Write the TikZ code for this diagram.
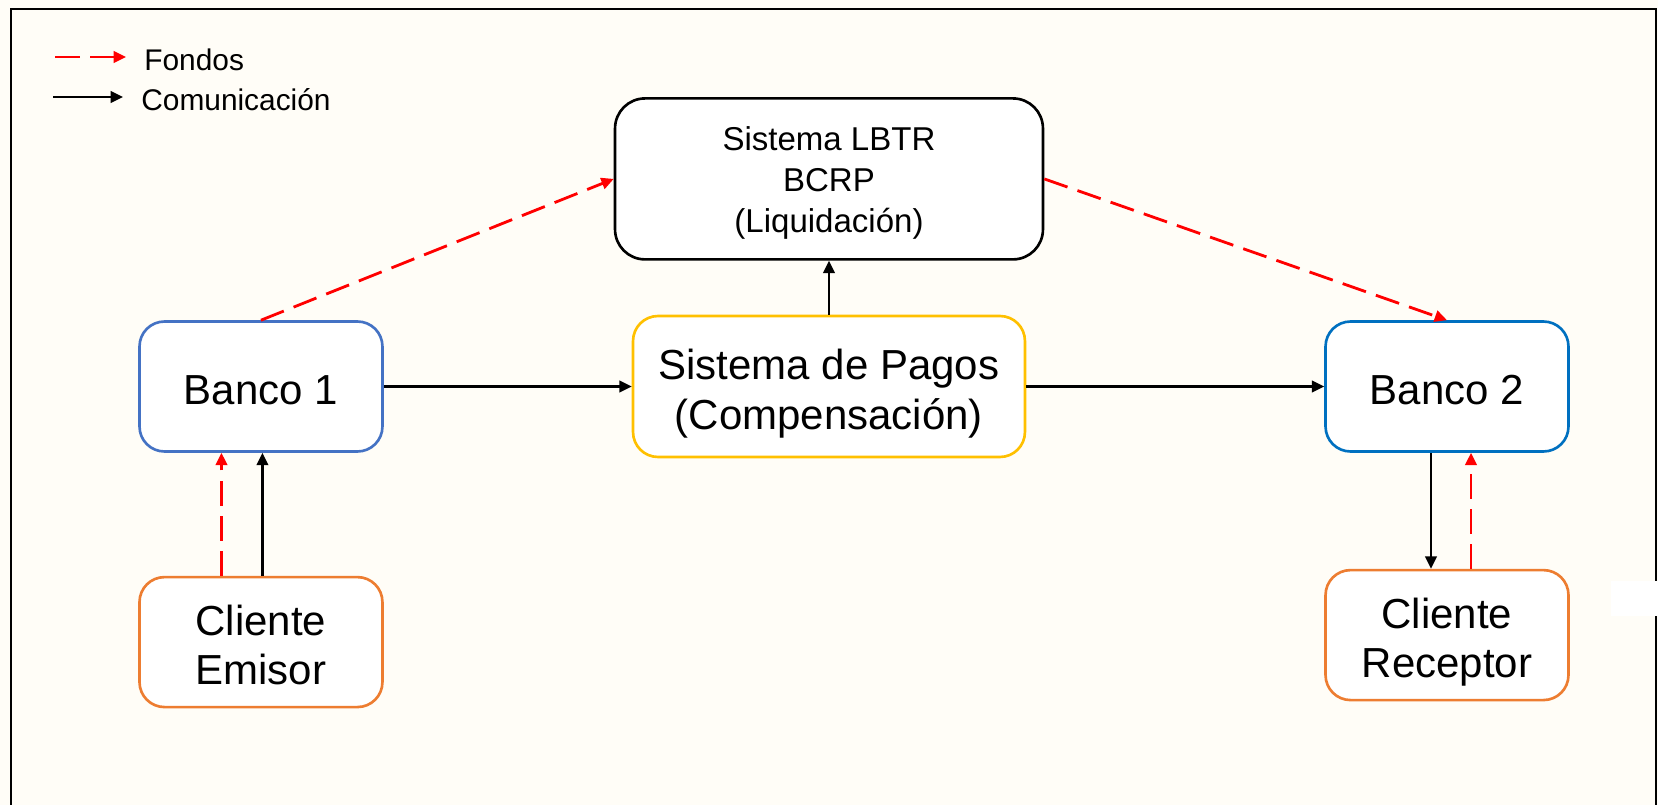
\documentclass[tikz,border=0pt]{standalone}
\usepackage{fontspec}
\setmainfont{Liberation Sans}
\usetikzlibrary{positioning, arrows.meta}

\definecolor{cream}{RGB}{255,253,247}
\definecolor{bancoA}{RGB}{68,114,196}
\definecolor{bancoB}{RGB}{0,112,192}
\definecolor{clienteC}{RGB}{237,125,49}
\definecolor{pagosC}{RGB}{255,192,0}

% struts that set the first and last line
\newcommand{\topgap}[1]{\rule{0pt}{#1}}
\newcommand{\botgap}[1]{\rule[-#1]{0pt}{0pt}}

\begin{document}
\begin{tikzpicture}[
            x=0.02cm, y=-0.02cm,
            block/.style={draw, line width=1.5pt, rounded corners=0.5cm, fill=white, minimum width=4.86cm, minimum height=2.6cm, align=center, font=\fontsize{23.9}{28}\selectfont},
            comm/.style={-{Triangle[length=7pt,width=6.5pt]}, line width=1.3pt},
            fund/.style={-{Triangle[length=7pt,width=6.5pt]}, line width=1.6pt, red, dash pattern=on 14pt off 6pt},
            legend/.style={anchor=west, inner xsep=0.36cm, inner ysep=0pt, font=\fontsize{17}{20}\selectfont},
            node distance=1.08cm and 4.96cm
        ]

            % Page and frame
            \useasboundingbox (0,0) rectangle (1658,805);
            \fill[cream] (0,0) rectangle (1658,805);
            \draw[line width=1.1pt] (11,805) -- (11,9) -- (1656,9) -- (1656,805);
            \fill[white] (1611,581) rectangle (1658,616);

            % Legend
            \coordinate (fondosA) at (55,57);
            \node[legend] (fondos) at (126,60) {Fondos};
            \coordinate (comA) at (53,97);
            \node[legend] (comunic) at (123,100) {Comunicación};
            \draw[fund] (fondosA) -- (fondosA -| fondos.west);
            \draw[comm] (comA) -- (comA -| comunic.west);

            % Middle row
            \node[block, draw=pagosC, minimum width=7.84cm, minimum height=2.82cm] (pagos) at (829,386.5) {\topgap{26.5pt}Sistema de Pagos\\(Compensación)\botgap{6pt}};
            \node[block, draw=bancoA, left=of pagos] (banco1) {\topgap{26.5pt}Banco 1\botgap{6pt}};
            \node[block, draw=bancoB, right=5.96cm of pagos] (banco2) {\topgap{26.5pt}Banco 2\botgap{6pt}};

            % Top
            \node[block, draw=black, minimum width=8.56cm, minimum height=3.22cm, rounded corners=0.6cm, font=\fontsize{18.8}{23.2}\selectfont, above=of pagos] (lbtr) {\topgap{19.2pt}Sistema LBTR\\BCRP\\(Liquidación)\botgap{5pt}};

            % Clients
            \node[block, draw=clienteC, below=2.46cm of banco1] (emisor) {\topgap{26.5pt}Cliente\\Emisor\botgap{6pt}};
            \node[block, draw=clienteC, below=2.32cm of banco2] (receptor) {\topgap{26.5pt}Cliente\\Receptor\botgap{6pt}};

            % Communication
            \draw[comm] (banco1) -- (pagos);
            \draw[comm] (pagos) -- (banco2);
            \draw[comm] (pagos) -- (lbtr);
            \draw[comm] ([xshift=0.03cm]emisor.north) -- ([xshift=0.03cm]emisor.north |- banco1.south);
            \draw[comm] ([xshift=-0.32cm]banco2.south) -- ([xshift=-0.32cm]banco2.south |- receptor.north);

            % Funds
            \draw[fund] (banco1.north) -- (lbtr.west);
            \draw[fund] (lbtr.east) -- (banco2.north);
            \draw[fund] ([xshift=-0.79cm]emisor.north) -- ([xshift=-0.79cm]emisor.north |- banco1.south);
            \draw[fund] ([xshift=0.48cm]receptor.north) -- ([xshift=0.48cm]receptor.north |- banco2.south);

        \end{tikzpicture}
\end{document}
